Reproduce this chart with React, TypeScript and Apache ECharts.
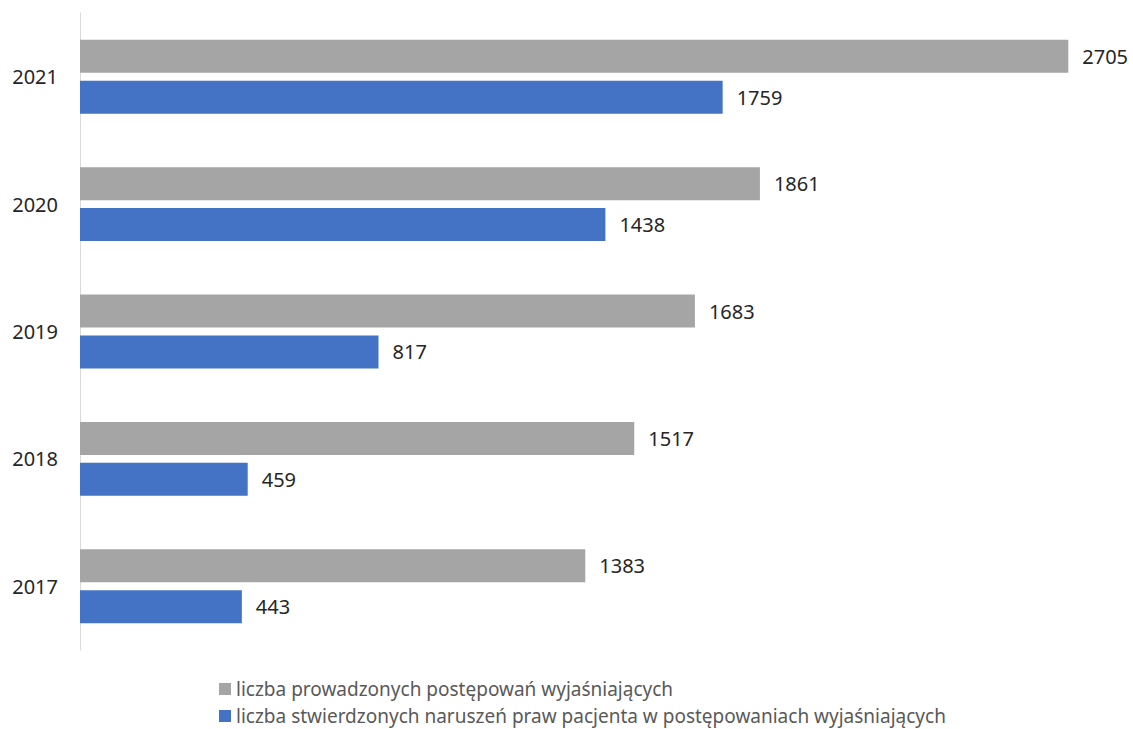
import React, { useEffect, useRef } from "react";
import * as echarts from "echarts";

const years = ["2017", "2018", "2019", "2020", "2021"];
const prowadzone = [1383, 1517, 1683, 1861, 2705];
const stwierdzone = [443, 459, 817, 1438, 1759];
const seriesNames = [
  "liczba prowadzonych postępowań wyjaśniających",
  "liczba stwierdzonych naruszeń praw pacjenta w postępowaniach wyjaśniających",
];

export default function App() {
  const ref = useRef<HTMLDivElement>(null);
  useEffect(() => {
    if (!ref.current) return;
    const chart = echarts.init(ref.current, null, { renderer: "svg" });
    const font = "'Noto Sans', 'Liberation Sans', sans-serif";
    const label = {
      show: true,
      position: "right",
      distance: 14,
      color: "#262626",
      fontSize: 20,
      fontFamily: font,
    };
    chart.setOption({
      animation: false,
      backgroundColor: "#ffffff",
      grid: { left: 80, top: 13, height: 637, right: 30, containLabel: false },
      xAxis: {
        type: "value",
        min: 0,
        max: 2800,
        show: false,
      },
      yAxis: {
        type: "category",
        data: years,
        axisLine: { show: true, lineStyle: { color: "#d9d9d9", width: 1 } },
        axisTick: { show: false },
        axisLabel: { color: "#262626", fontSize: 20, fontFamily: font, margin: 22 },
      },
      legend: {
        orient: "vertical",
        left: 214,
        top: 674,
        height: 52,
        itemWidth: 12,
        itemHeight: 12,
        itemGap: 7,
        icon: "rect",
        data: seriesNames,
        textStyle: { color: "#595959", fontSize: 19, lineHeight: 20, fontFamily: font },
      },
      series: [
        {
          name: seriesNames[0],
          type: "bar",
          data: prowadzone,
          barWidth: 33,
          barGap: "24%",
          itemStyle: { color: "#A5A5A5" },
          label,
        },
        {
          name: seriesNames[1],
          type: "bar",
          data: stwierdzone,
          barWidth: 33,
          barGap: "24%",
          itemStyle: { color: "#4472C4" },
          label,
        },
      ],
    });
    return () => chart.dispose();
  }, []);
  return (
    <div
      ref={ref}
      style={{ position: "absolute", left: 0, top: 0, width: 1133, height: 729 }}
    />
  );
}
